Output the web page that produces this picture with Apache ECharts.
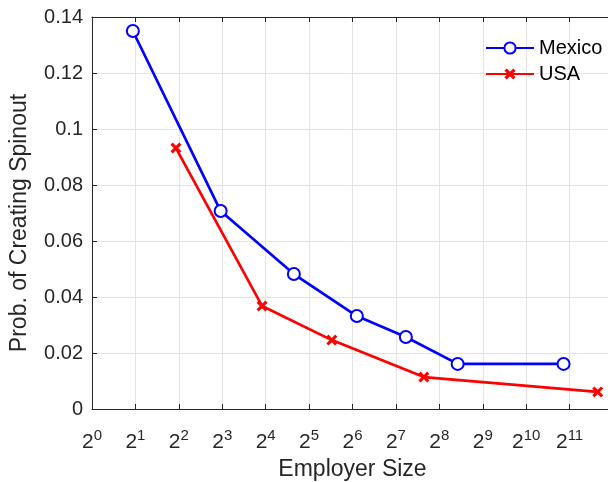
<!DOCTYPE html>
<html>
<head>
<meta charset="utf-8">
<script src="https://cdn.jsdelivr.net/npm/echarts@6/dist/echarts.min.js"></script>
<style>html,body{margin:0;padding:0;background:#fff;}#c{width:608px;height:482px;}</style>
</head>
<body>
<div id="c"></div>
<script>
var mexicoX = [1.92, 7.8, 25.1, 68.6, 150, 343, 1860];
var mexicoY = [0.135, 0.0707, 0.0482, 0.0332, 0.0257, 0.0161, 0.0161];
var usaX = [3.82, 15.1, 46, 200, 3210];
var usaY = [0.0932, 0.0368, 0.0246, 0.0114, 0.0061];
var yTicks = [0, 0.02, 0.04, 0.06, 0.08, 0.1, 0.12, 0.14];
var xExponents = [0,1,2,3,4,5,6,7,8,9,10,11];

function pairs(xs, ys){ return xs.map(function(x,i){ return [x, ys[i]]; }); }
var font = 'Liberation Sans, Arial, Helvetica, sans-serif';
var axisColor = '#262626';
var crossPath = 'path://M0,2L2,0L5,3L8,0L10,2L7,5L10,8L8,10L5,7L2,10L0,8L3,5Z';

var chart = echarts.init(document.getElementById('c'));
chart.setOption({
  animation: false,
  backgroundColor: '#fff',
  grid: { left: 92, right: -5, top: 17, bottom: 73, containLabel: false, outerBoundsMode: 'none' },
  legend: {
    left: 480, top: 33, orient: 'vertical', itemGap: 6,
    itemWidth: 48, itemHeight: 14,
    textStyle: { fontFamily: font, fontSize: 20, color: '#000' },
    data: ['Mexico', 'USA']
  },
  xAxis: [{
    type: 'log', logBase: 2, min: 1, max: 4096, interval: 1,
    name: 'Employer Size', nameLocation: 'middle', nameGap: 49,
    nameTextStyle: { fontFamily: font, fontSize: 23, color: axisColor },
    axisLine: { lineStyle: { color: axisColor, width: 1 } },
    axisTick: { inside: true, length: 5, lineStyle: { color: axisColor } },
    splitLine: { show: true, lineStyle: { color: '#e3e3e3', width: 1 } },
    axisLabel: {
      margin: 19,
      formatter: function(v){
        var e = Math.round(Math.log(v)/Math.log(2));
        if (xExponents.indexOf(e) < 0) return '';
        return '{b|2}{s|' + e + '}';
      },
      rich: {
        b: { fontFamily: font, fontSize: 21, color: axisColor, verticalAlign: 'bottom' },
        s: { fontFamily: font, fontSize: 15, color: axisColor, padding: [0, 0, 10, 0], verticalAlign: 'bottom' }
      }
    }
  }, {
    type: 'log', logBase: 2, min: 1, max: 4096, interval: 1, position: 'top',
    axisLine: { lineStyle: { color: axisColor, width: 1 } },
    axisTick: { inside: true, length: 5, lineStyle: { color: axisColor } },
    axisLabel: { show: false }, splitLine: { show: false }
  }],
  yAxis: {
    type: 'value', min: 0, max: 0.14, interval: 0.02,
    name: 'Prob. of Creating Spinout', nameLocation: 'middle', nameGap: 61,
    nameTextStyle: { fontFamily: font, fontSize: 23, color: axisColor, padding: [0, 20, 0, 0] },
    axisLine: { show: true, lineStyle: { color: axisColor, width: 1 } },
    axisTick: { show: true, inside: true, length: 5, lineStyle: { color: axisColor } },
    splitLine: { show: true, lineStyle: { color: '#e3e3e3', width: 1 } },
    axisLabel: {
      margin: 9, fontFamily: font, fontSize: 20, color: axisColor,
      formatter: function(v){
        for (var i = 0; i < yTicks.length; i++) if (Math.abs(yTicks[i]-v) < 1e-9) return String(yTicks[i]);
        return '';
      }
    }
  },
  series: [{
    name: 'Mexico', type: 'line', data: pairs(mexicoX, mexicoY),
    symbol: 'emptyCircle', symbolSize: 12,
    lineStyle: { color: '#0000ff', width: 2.7 },
    itemStyle: { color: '#0000ff', borderColor: '#0000ff', borderWidth: 2.7 },
    z: 3
  }, {
    name: 'USA', type: 'line', data: pairs(usaX, usaY),
    symbol: crossPath, symbolSize: 11,
    lineStyle: { color: '#ff0000', width: 2.7 },
    itemStyle: { color: '#ff0000', borderColor: '#ff0000', borderWidth: 0 },
    z: 2
  }]
});
</script>
</body>
</html>
